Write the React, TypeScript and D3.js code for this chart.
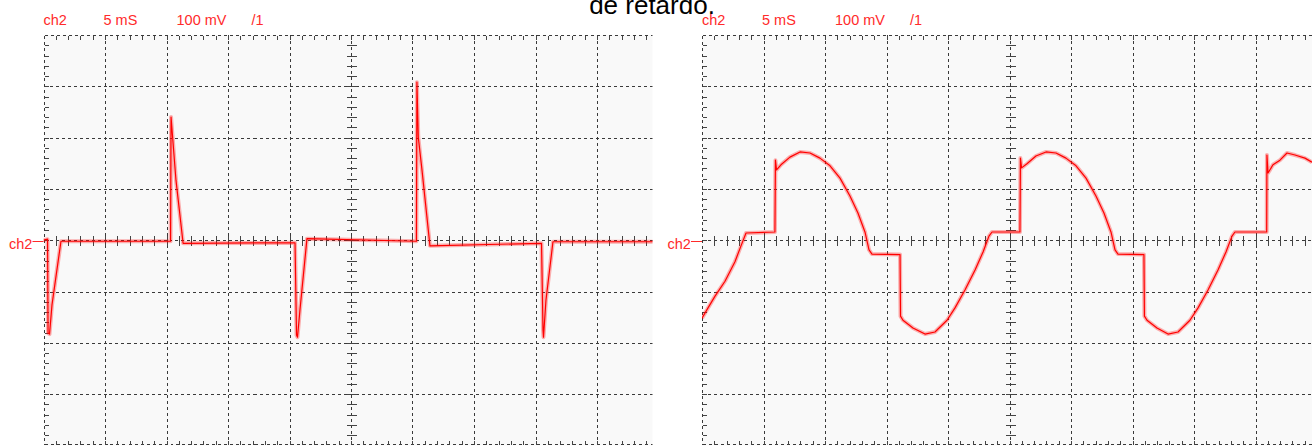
// @ts-nocheck
import React, { useEffect, useRef } from 'react';
import * as d3 from 'd3';

const titleText = 'de retardo.';
const headerLabels = ['ch2', '5 mS', '100 mV', '/1'];
const channelLabel = 'ch2';

// scope scale: 10 x 5 ms horizontally, 8 x 100 mV vertically
const timeDomain = [0, 50];
const voltDomain = [-400, 400];
const timeMajor = [5, 10, 15, 20, 25, 30, 35, 40, 45];
const voltMajor = [-300, -200, -100, 0, 100, 200, 300];

// left screen (ms, mV)
const leftTime = [0, 0.33, 0.37, 0.49, 0.69, 1.42, 10.33, 10.37, 10.45, 10.77, 11.35, 20.45, 20.57, 20.65, 20.85, 21.42,
  30.32, 30.36, 30.47, 30.77, 31.42, 40.49, 40.61, 40.65, 40.85, 41.42, 50];
const leftVolt = [0, 2, -181, -183, -126, -2, -2, 240, 215, 117, -6, -5, -185, -189, -136, 3,
  -2, 308, 201, 137, -11, -6, -175, -189, -117, -3, -3];

// right screen (ms, mV)
const rightTime = [0, 0.49, 1.06, 1.87, 2.68, 3.17, 3.58, 5.93, 5.97, 6.06, 6.42, 7.15, 7.97, 8.78, 9.59, 10.41, 11.22,
  12.03, 12.68, 13.25, 13.58, 13.82, 16.1, 16.14, 16.34, 17.15, 18.13, 18.94, 19.92, 20.57, 21.38, 22.2, 22.85, 23.33,
  23.58, 25.85, 25.89, 25.98, 26.42, 27.15, 27.97, 28.78, 29.59, 30.41, 31.22, 32.03, 32.68, 33.25, 33.58, 33.82,
  35.93, 35.97, 36.18, 36.99, 37.89, 38.7, 39.67, 40.33, 41.14, 41.95, 42.6, 43.09, 43.33, 45.91, 45.93, 46.02,
  46.42, 46.99, 47.56, 48.21, 49.02, 49.59];
const rightVolt = [-152, -132, -109, -80, -42, -11, 14, 16, 156, 137, 147, 162, 172, 170, 160, 145, 121,
  86, 53, 16, -19, -27, -28, -148, -156, -171, -183, -179, -156, -132, -97, -58, -23, 8,
  16, 16, 160, 141, 149, 164, 172, 170, 160, 145, 121, 86, 53, 16, -19, -27,
  -28, -148, -156, -171, -183, -179, -156, -132, -97, -58, -23, 8, 16, 16, 166, 131,
  147, 156, 170, 166, 160, 152];

const App = () => {
  const svgRef = useRef(null);

  useEffect(() => {
    const width = 1312;
    const height = 446;
    const top = 35;
    const bottom = 445.4;
    const screenW = 615;

    const svg = d3.select(svgRef.current)
      .attr('width', width)
      .attr('height', height)
      .style('position', 'absolute')
      .style('left', '0px')
      .style('top', '0px')
      .style('background', '#fff')
      .style('font-family', '"Liberation Sans", Arial, sans-serif');

    svg.selectAll('*').remove();

    svg.append('text')
      .attr('x', 652)
      .attr('y', 14)
      .attr('text-anchor', 'middle')
      .attr('font-size', 26)
      .attr('fill', '#000')
      .text(titleText);

    const drawScreen = (left, right, id, time, volt) => {
      const x = d3.scaleLinear().domain(timeDomain).range([left, left + screenW]);
      const y = d3.scaleLinear().domain(voltDomain).range([bottom, top]);
      const g = svg.append('g');

      g.append('clipPath').attr('id', id)
        .append('rect')
        .attr('x', left).attr('y', top)
        .attr('width', right - left).attr('height', bottom - top + 1);

      const scr = g.append('g').attr('clip-path', `url(#${id})`);

      scr.append('rect')
        .attr('x', left).attr('y', top)
        .attr('width', screenW).attr('height', bottom - top)
        .attr('fill', '#f9f9f9');

      const grid = scr.append('g')
        .attr('stroke', '#3a3a3a')
        .attr('stroke-width', 1)
        .attr('stroke-dasharray', '3 3')
        .attr('shape-rendering', 'crispEdges');

      grid.selectAll('.vx').data(timeMajor).join('line')
        .attr('x1', d => Math.round(x(d)) + 0.5).attr('x2', d => Math.round(x(d)) + 0.5)
        .attr('y1', top).attr('y2', bottom);

      grid.selectAll('.hy').data(voltMajor).join('line')
        .attr('y1', d => Math.round(y(d)) + 0.5).attr('y2', d => Math.round(y(d)) + 0.5)
        .attr('x1', left).attr('x2', left + screenW);

      // border
      const bx0 = Math.round(left) + 0.5;
      const by0 = Math.round(top) + 0.5;
      const by1 = Math.round(bottom) - 0.5;
      grid.append('line').attr('x1', bx0).attr('x2', left + screenW).attr('y1', by0).attr('y2', by0);
      grid.append('line').attr('x1', bx0).attr('x2', left + screenW).attr('y1', by1).attr('y2', by1);
      grid.append('line').attr('x1', bx0).attr('x2', bx0).attr('y1', by0).attr('y2', by1);

      const ticks = scr.append('g')
        .attr('stroke', '#444')
        .attr('stroke-width', 1)
        .attr('shape-rendering', 'crispEdges');

      const tMinor = d3.range(timeDomain[0] + 1, timeDomain[1], 1);
      const vMinor = d3.range(voltDomain[0] + 20, voltDomain[1], 20);
      const cx = Math.round(x(25)) + 0.5;
      const cy = Math.round(y(0)) + 0.5;

      ticks.selectAll('.tt').data(tMinor).join('line')
        .attr('x1', d => Math.round(x(d)) + 0.5).attr('x2', d => Math.round(x(d)) + 0.5)
        .attr('y1', by0).attr('y2', by0 + 4);
      ticks.selectAll('.tb').data(tMinor).join('line')
        .attr('x1', d => Math.round(x(d)) + 0.5).attr('x2', d => Math.round(x(d)) + 0.5)
        .attr('y1', by1).attr('y2', by1 - 4);
      ticks.selectAll('.tc').data(tMinor).join('line')
        .attr('x1', d => Math.round(x(d)) + 0.5).attr('x2', d => Math.round(x(d)) + 0.5)
        .attr('y1', cy - 5).attr('y2', cy + 5);
      ticks.selectAll('.vl').data(vMinor).join('line')
        .attr('y1', d => Math.round(y(d)) + 0.5).attr('y2', d => Math.round(y(d)) + 0.5)
        .attr('x1', bx0).attr('x2', bx0 + 4);
      ticks.selectAll('.vc').data(vMinor).join('line')
        .attr('y1', d => Math.round(y(d)) + 0.5).attr('y2', d => Math.round(y(d)) + 0.5)
        .attr('x1', cx - 5).attr('x2', cx + 5);

      const line = d3.line().x(d => x(d[0])).y(d => y(d[1]));
      const pts = time.map((t, i) => [t, volt[i]]);

      // noise band, then the trace itself
      scr.append('path')
        .attr('d', line(pts))
        .attr('fill', 'none')
        .attr('stroke', '#ff0000')
        .attr('stroke-opacity', 0.3)
        .attr('stroke-width', 4)
        .attr('stroke-linejoin', 'round');
      scr.append('path')
        .attr('d', line(pts))
        .attr('fill', 'none')
        .attr('stroke', '#ff0000')
        .attr('stroke-width', 1.2)
        .attr('stroke-linejoin', 'round');

      // header
      const offs = [0, 60, 133, 208];
      g.selectAll('.hdr').data(headerLabels).join('text')
        .attr('x', (d, i) => left + offs[i])
        .attr('y', 25)
        .attr('font-size', 14.5)
        .attr('fill', '#ff2a2a')
        .attr('xml:space', 'preserve')
        .text(d => d);

      // channel marker
      g.append('text')
        .attr('x', left - 34.5)
        .attr('y', 249)
        .attr('font-size', 14.5)
        .attr('fill', '#ff2a2a')
        .text(channelLabel);
      g.append('line')
        .attr('x1', left - 11).attr('x2', left)
        .attr('y1', 241.5).attr('y2', 241.5)
        .attr('stroke', '#ff2a2a')
        .attr('stroke-width', 1);
    };

    drawScreen(43.5, 652.5, 'clipL', leftTime, leftVolt);
    drawScreen(702, 1312, 'clipR', rightTime, rightVolt);
  }, []);

  return <svg ref={svgRef}></svg>;
};

export default App;
